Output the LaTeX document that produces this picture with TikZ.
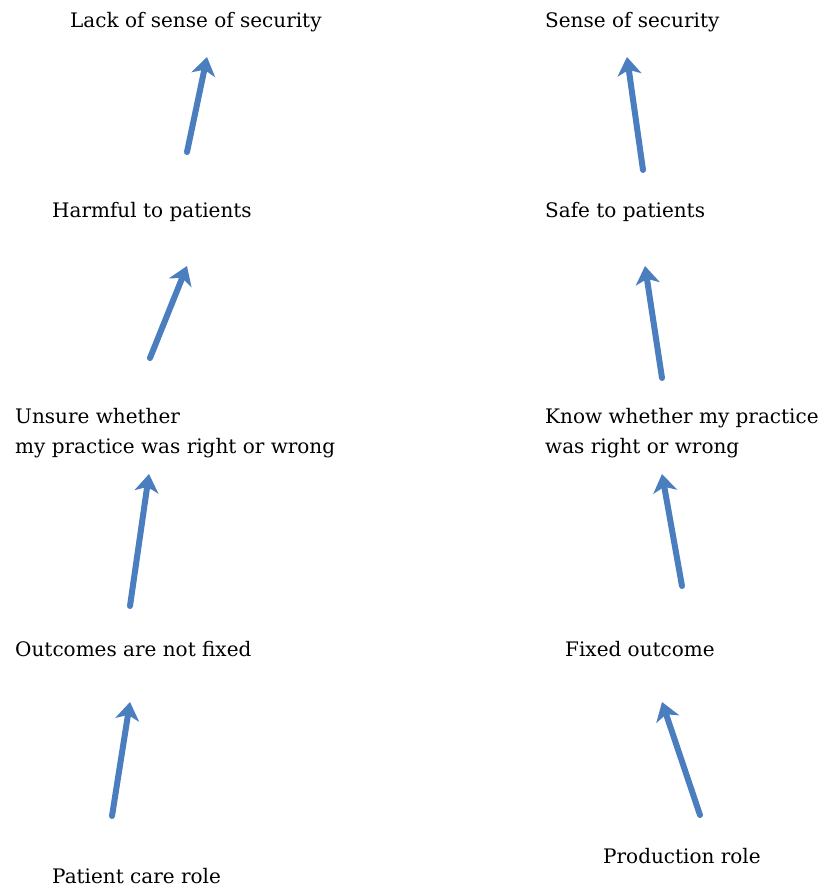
\documentclass[tikz,border=0pt]{standalone}
\usepackage{fontspec}
\setmainfont{DejaVu Serif}
\usetikzlibrary{arrows.meta}
\definecolor{arrowblue}{HTML}{4A7EBF}
\tikzset{
  lbl/.style={anchor=west, inner sep=0pt, font=\fontsize{20}{30}\selectfont, align=left, text=black},
  link/.style={draw=arrowblue, line width=6pt, line cap=round,
    -{Stealth[length=18pt, width=24pt, inset=5pt]}},
}
\begin{document}
\begin{tikzpicture}[x=1pt, y=-1pt]
\useasboundingbox (0,0) rectangle (832,892);
% left column: patient care
\node[lbl] (l1) at (70,22) {Lack of sense of security};
\node[lbl] (l2) at (52,212) {Harmful to patients};
\node[lbl] (l3) at (15,433) {Unsure whether\\my practice was right or wrong};
\node[lbl] (l4) at (15,649) {Outcomes are not fixed};
\node[lbl] (l5) at (52,876) {Patient care role};
% right column: production
\node[lbl] (r1) at (545,22) {Sense of security};
\node[lbl] (r2) at (545,212) {Safe to patients};
\node[lbl] (r3) at (545,433) {Know whether my practice\\was right or wrong};
\node[lbl] (r4) at (565,649) {Fixed outcome};
\node[lbl] (r5) at (603,856) {Production role};
% arrow ends
\coordinate (la1) at (112,816); \coordinate (lb1) at (130,702);
\coordinate (la2) at (130,606); \coordinate (lb2) at (149,474);
\coordinate (la3) at (150,358); \coordinate (lb3) at (187,266);
\coordinate (la4) at (187,152); \coordinate (lb4) at (207,57);
\coordinate (ra1) at (700,815); \coordinate (rb1) at (662,702);
\coordinate (ra2) at (682,586); \coordinate (rb2) at (662,474);
\coordinate (ra3) at (662,378); \coordinate (rb3) at (645,266);
\coordinate (ra4) at (643,170); \coordinate (rb4) at (627,57);
\foreach \s in {l,r}{
  \foreach \i in {1,...,4}{
    \draw[link] (\s a\i) -- (\s b\i);
  }
}
\end{tikzpicture}
\end{document}
